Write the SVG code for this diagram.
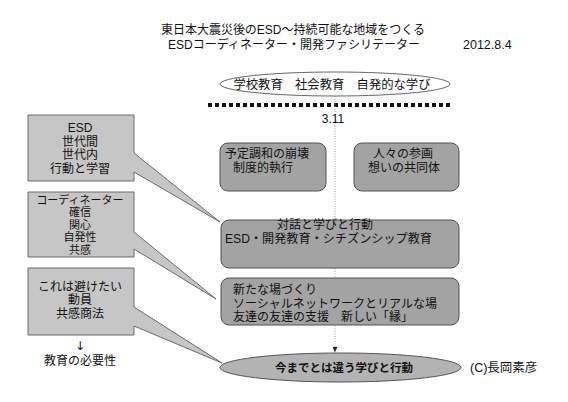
<svg xmlns="http://www.w3.org/2000/svg" width="568" height="402" viewBox="0 0 568 402">
<style>
.jp{font-family:"Liberation Sans","Noto Sans CJK JP",sans-serif;fill:#111}
.sans{font-family:"Liberation Sans",Arial,sans-serif;fill:#111}
.call{fill:#c6c6c6;stroke:#6a6a6a;stroke-width:1}
.rbox{fill:#a3a3a3;stroke:#505050;stroke-width:1}
.t13{font-size:12px}
.t11{font-size:11px}
</style>
<defs>
<marker id="ah" viewBox="0 0 10 10" refX="10" refY="5" markerWidth="5" markerHeight="5" orient="auto">
<path d="M0,0 L10,5 L0,10 Z" fill="#222"/>
</marker>
</defs>
<rect width="568" height="402" fill="#fff"/>
<g id="title">
<text class="jp" x="293" y="34" font-size="12.5" text-anchor="middle" textLength="264" lengthAdjust="spacingAndGlyphs">東日本大震災後のESD〜持続可能な地域をつくる</text>
<text class="jp" x="294" y="48.5" font-size="12" text-anchor="middle" textLength="252" lengthAdjust="spacingAndGlyphs">ESDコーディネーター・開発ファシリテーター</text>
<text class="sans" x="463" y="49" font-size="12.5">2012.8.4</text>
</g>
<g id="connectors">
<line x1="208" y1="105" x2="450" y2="105" stroke="#111" stroke-width="4" stroke-dasharray="4 3"/>
<line x1="335" y1="96" x2="335" y2="352" stroke="#999" stroke-width="1" stroke-dasharray="1 1.5" marker-end="url(#ah)"/>
<text class="sans" x="333" y="123" font-size="12" text-anchor="middle">3.11</text>
</g>
<g id="top-ellipse">
<ellipse cx="335" cy="84" rx="115" ry="12" fill="#fff" stroke="#666" stroke-width="1"/>
<text class="jp" x="332" y="88.5" font-size="12.5" text-anchor="middle" textLength="197" lengthAdjust="spacingAndGlyphs">学校教育　社会教育　自発的な学び</text>
</g>
<g id="box-esd">
<path class="call" d="M28,115 H134 V153 L220,222 L134,172 V181 H28 Z"/>
<text class="sans" x="80" y="132" font-size="12" text-anchor="middle">ESD</text>
<text class="jp t13" x="80" y="145.5" text-anchor="middle">世代間</text>
<text class="jp t13" x="80" y="159" text-anchor="middle">世代内</text>
<text class="jp t13" x="80" y="172.5" text-anchor="middle">行動と学習</text>
</g>
<g id="box-coordinator">
<path class="call" d="M28,192 H134 V232 L216,299 L134,249 V257 H28 Z"/>
<text class="jp t11" x="80" y="203.5" text-anchor="middle">コーディネーター</text>
<text class="jp t11" x="80" y="216" text-anchor="middle">確信</text>
<text class="jp t11" x="80" y="228.5" text-anchor="middle">関心</text>
<text class="jp t11" x="80" y="241" text-anchor="middle">自発性</text>
<text class="jp t11" x="80" y="253.5" text-anchor="middle">共感</text>
</g>
<g id="box-avoid">
<path class="call" d="M28,268 H134 V307 L222,363 L134,326 V335 H28 Z"/>
<text class="jp t13" x="80" y="290.5" text-anchor="middle">これは避けたい</text>
<text class="jp t13" x="80" y="304" text-anchor="middle">動員</text>
<text class="jp t13" x="80" y="317.5" text-anchor="middle">共感商法</text>
</g>
<g id="need">
<text x="80" y="350" font-family="DejaVu Sans, sans-serif" font-size="12" fill="#111" text-anchor="middle">↓</text>
<text class="jp t13" x="80" y="364.5" text-anchor="middle">教育の必要性</text>
</g>
<g id="box-collapse">
<rect class="rbox" x="220" y="143" width="106" height="48" rx="8"/>
<text class="jp t13" x="225" y="157.5">予定調和の崩壊</text>
<text class="jp t13" x="233" y="171.5">制度的執行</text>
</g>
<g id="box-participation">
<rect class="rbox" x="354" y="143" width="105" height="48" rx="8"/>
<text class="jp t13" x="373" y="157.5">人々の参画</text>
<text class="jp t13" x="368" y="171.5">想いの共同体</text>
</g>
<g id="box-dialogue">
<rect class="rbox" x="221" y="220" width="238" height="48" rx="8"/>
<text class="jp t13" x="277" y="229">対話と学びと行動</text>
<text class="jp t13" x="225" y="242.5" textLength="207" lengthAdjust="spacingAndGlyphs">ESD・開発教育・シチズンシップ教育</text>
</g>
<g id="box-newplace">
<rect class="rbox" x="221" y="278" width="238" height="47" rx="8"/>
<text class="jp t13" x="233" y="294">新たな場づくり</text>
<text class="jp t13" x="233" y="307.5" textLength="204" lengthAdjust="spacingAndGlyphs">ソーシャルネットワークとリアルな場</text>
<text class="jp t13" x="233" y="321">友達の友達の支援　新しい「縁」</text>
</g>
<g id="bottom-ellipse">
<ellipse cx="340.5" cy="367.5" rx="120.5" ry="14.5" fill="#b3b3b3" stroke="#555" stroke-width="1"/>
<text class="jp" x="344" y="372" font-size="11.5" font-weight="bold" text-anchor="middle">今までとは違う学びと行動</text>
</g>
<g id="credit">
<text class="jp" x="470" y="372" font-size="12.5">(C)長岡素彦</text>
</g>
</svg>
